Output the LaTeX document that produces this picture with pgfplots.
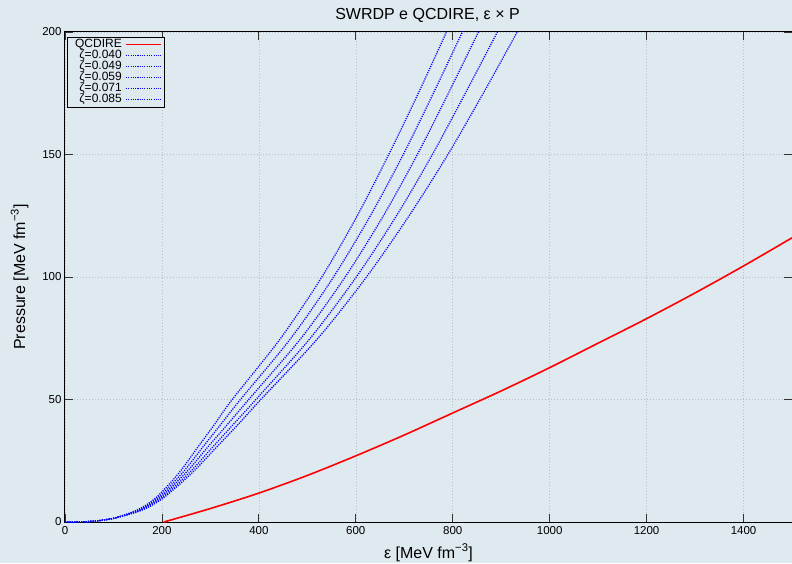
\documentclass[border=0pt]{standalone}
\usepackage{fontspec}
\setmainfont{Liberation Sans}
\usepackage{pgfplots}
\pgfplotsset{compat=1.18}
\definecolor{bgc}{RGB}{223,233,240}
\definecolor{gridc}{RGB}{185,190,195}
\newcommand{\legtxt}[1]{\makebox[55pt][r]{#1\hspace{3pt}}}
\begin{document}
\begin{tikzpicture}[x=1pt,y=1pt]
\fill[bgc] (-65,-41) rectangle (727,522);
\begin{axis}[
  at={(0,0)}, anchor=south west,
  scale only axis, width=727pt, height=490pt,
  xmin=0, xmax=1500, ymin=0, ymax=200,
  xtick={0,200,...,1400}, ytick={0,50,...,200},
  axis background/.style={fill=bgc},
  axis line style={black, line width=1pt},
  major tick length=8pt,
  tick style={black!80, line width=0.8pt},
  grid=major,
  grid style={gridc, dash pattern=on 1pt off 2pt, line width=0.6pt},
  /pgf/number format/assume math mode=true,
  /pgf/number format/1000 sep={},
  tick label style={font=\fontsize{11.5}{13}\selectfont},
  xticklabel style={yshift=-1pt},
  xlabel={ε [MeV fm\textsuperscript{−3}]},
  ylabel={Pressure [MeV fm\textsuperscript{−3}]},
  xlabel style={at={(axis description cs:0.5,-0.0735)}, anchor=base, font=\fontsize{16}{18}\selectfont},
  ylabel style={at={(axis description cs:-0.055,0.5)}, anchor=base, rotate=0, font=\fontsize{16}{18}\selectfont},
  legend style={at={(axis description cs:0.003,0.99)}, anchor=north west,
    draw=black, fill=bgc, font=\fontsize{12}{12}\selectfont,
    nodes={inner sep=0.4pt}, row sep=0pt, inner sep=2pt},
  legend cell align=left,
  legend plot pos=right,
  legend image code/.code={\draw[#1] (0pt,0pt) -- (35pt,0pt);},
]
\addplot[color=red, line width=1.6pt, smooth] coordinates {
(204,0) (300,5.5) (400,11.8) (500,19) (600,27) (700,35.5) (800,44.5) (900,53.5) (1000,63) (1100,73) (1200,83) (1300,93.5) (1400,104.5) (1500,116)};
\addlegendentry{\legtxt{QCDIRE}}
\addplot[blue, line width=1.3pt, dash pattern=on 1.1pt off 1.2pt, smooth] coordinates {
(0,0) (50,0.2) (100,1.5) (150,5) (188,10) (235,20) (272,30) (309,40) (345,50) (445,75) (530,100) (603,125) (668,150) (729,175) (787,200) (810,210)};
\addlegendentry{\legtxt{ζ=0.040}}
\addplot[blue, line width=1.3pt, dash pattern=on 1.1pt off 1.2pt, smooth] coordinates {
(0,0) (50,0.2) (100,1.5) (152,5) (192,10) (242,20) (282,30) (322,40) (362,50) (466,75) (554,100) (630,125) (698,150) (760,175) (820,200) (844,210)};
\addlegendentry{\legtxt{ζ=0.049}}
\addplot[blue, line width=1.3pt, dash pattern=on 1.1pt off 1.2pt, smooth] coordinates {
(0,0) (50,0.2) (100,1.5) (155,5) (196,10) (249,20) (292,30) (336,40) (379,50) (487,75) (578,100) (657,125) (727,150) (791,175) (853,200) (878,210)};
\addlegendentry{\legtxt{ζ=0.059}}
\addplot[blue, line width=1.3pt, dash pattern=on 1.1pt off 1.2pt, smooth] coordinates {
(0,0) (50,0.2) (100,1.5) (158,5) (200,10) (256,20) (302,30) (348,40) (394,50) (506,75) (601,100) (684,125) (758,150) (826,175) (892,200) (918,210)};
\addlegendentry{\legtxt{ζ=0.071}}
\addplot[blue, line width=1.3pt, dash pattern=on 1.1pt off 1.2pt, smooth] coordinates {
(0,0) (50,0.2) (100,1.5) (161,5) (204,10) (262,20) (310,30) (358,40) (404,50) (522,75) (622,100) (710,125) (790,150) (863,175) (933,200) (961,210)};
\addlegendentry{\legtxt{ζ=0.085}}
\end{axis}
\node[anchor=base, font=\fontsize{16}{18}\selectfont] at (362.5,502) {SWRDP e QCDIRE, ε × P};
\pgfresetboundingbox
\useasboundingbox (-65,-41) rectangle (727,522);
\end{tikzpicture}
\end{document}
